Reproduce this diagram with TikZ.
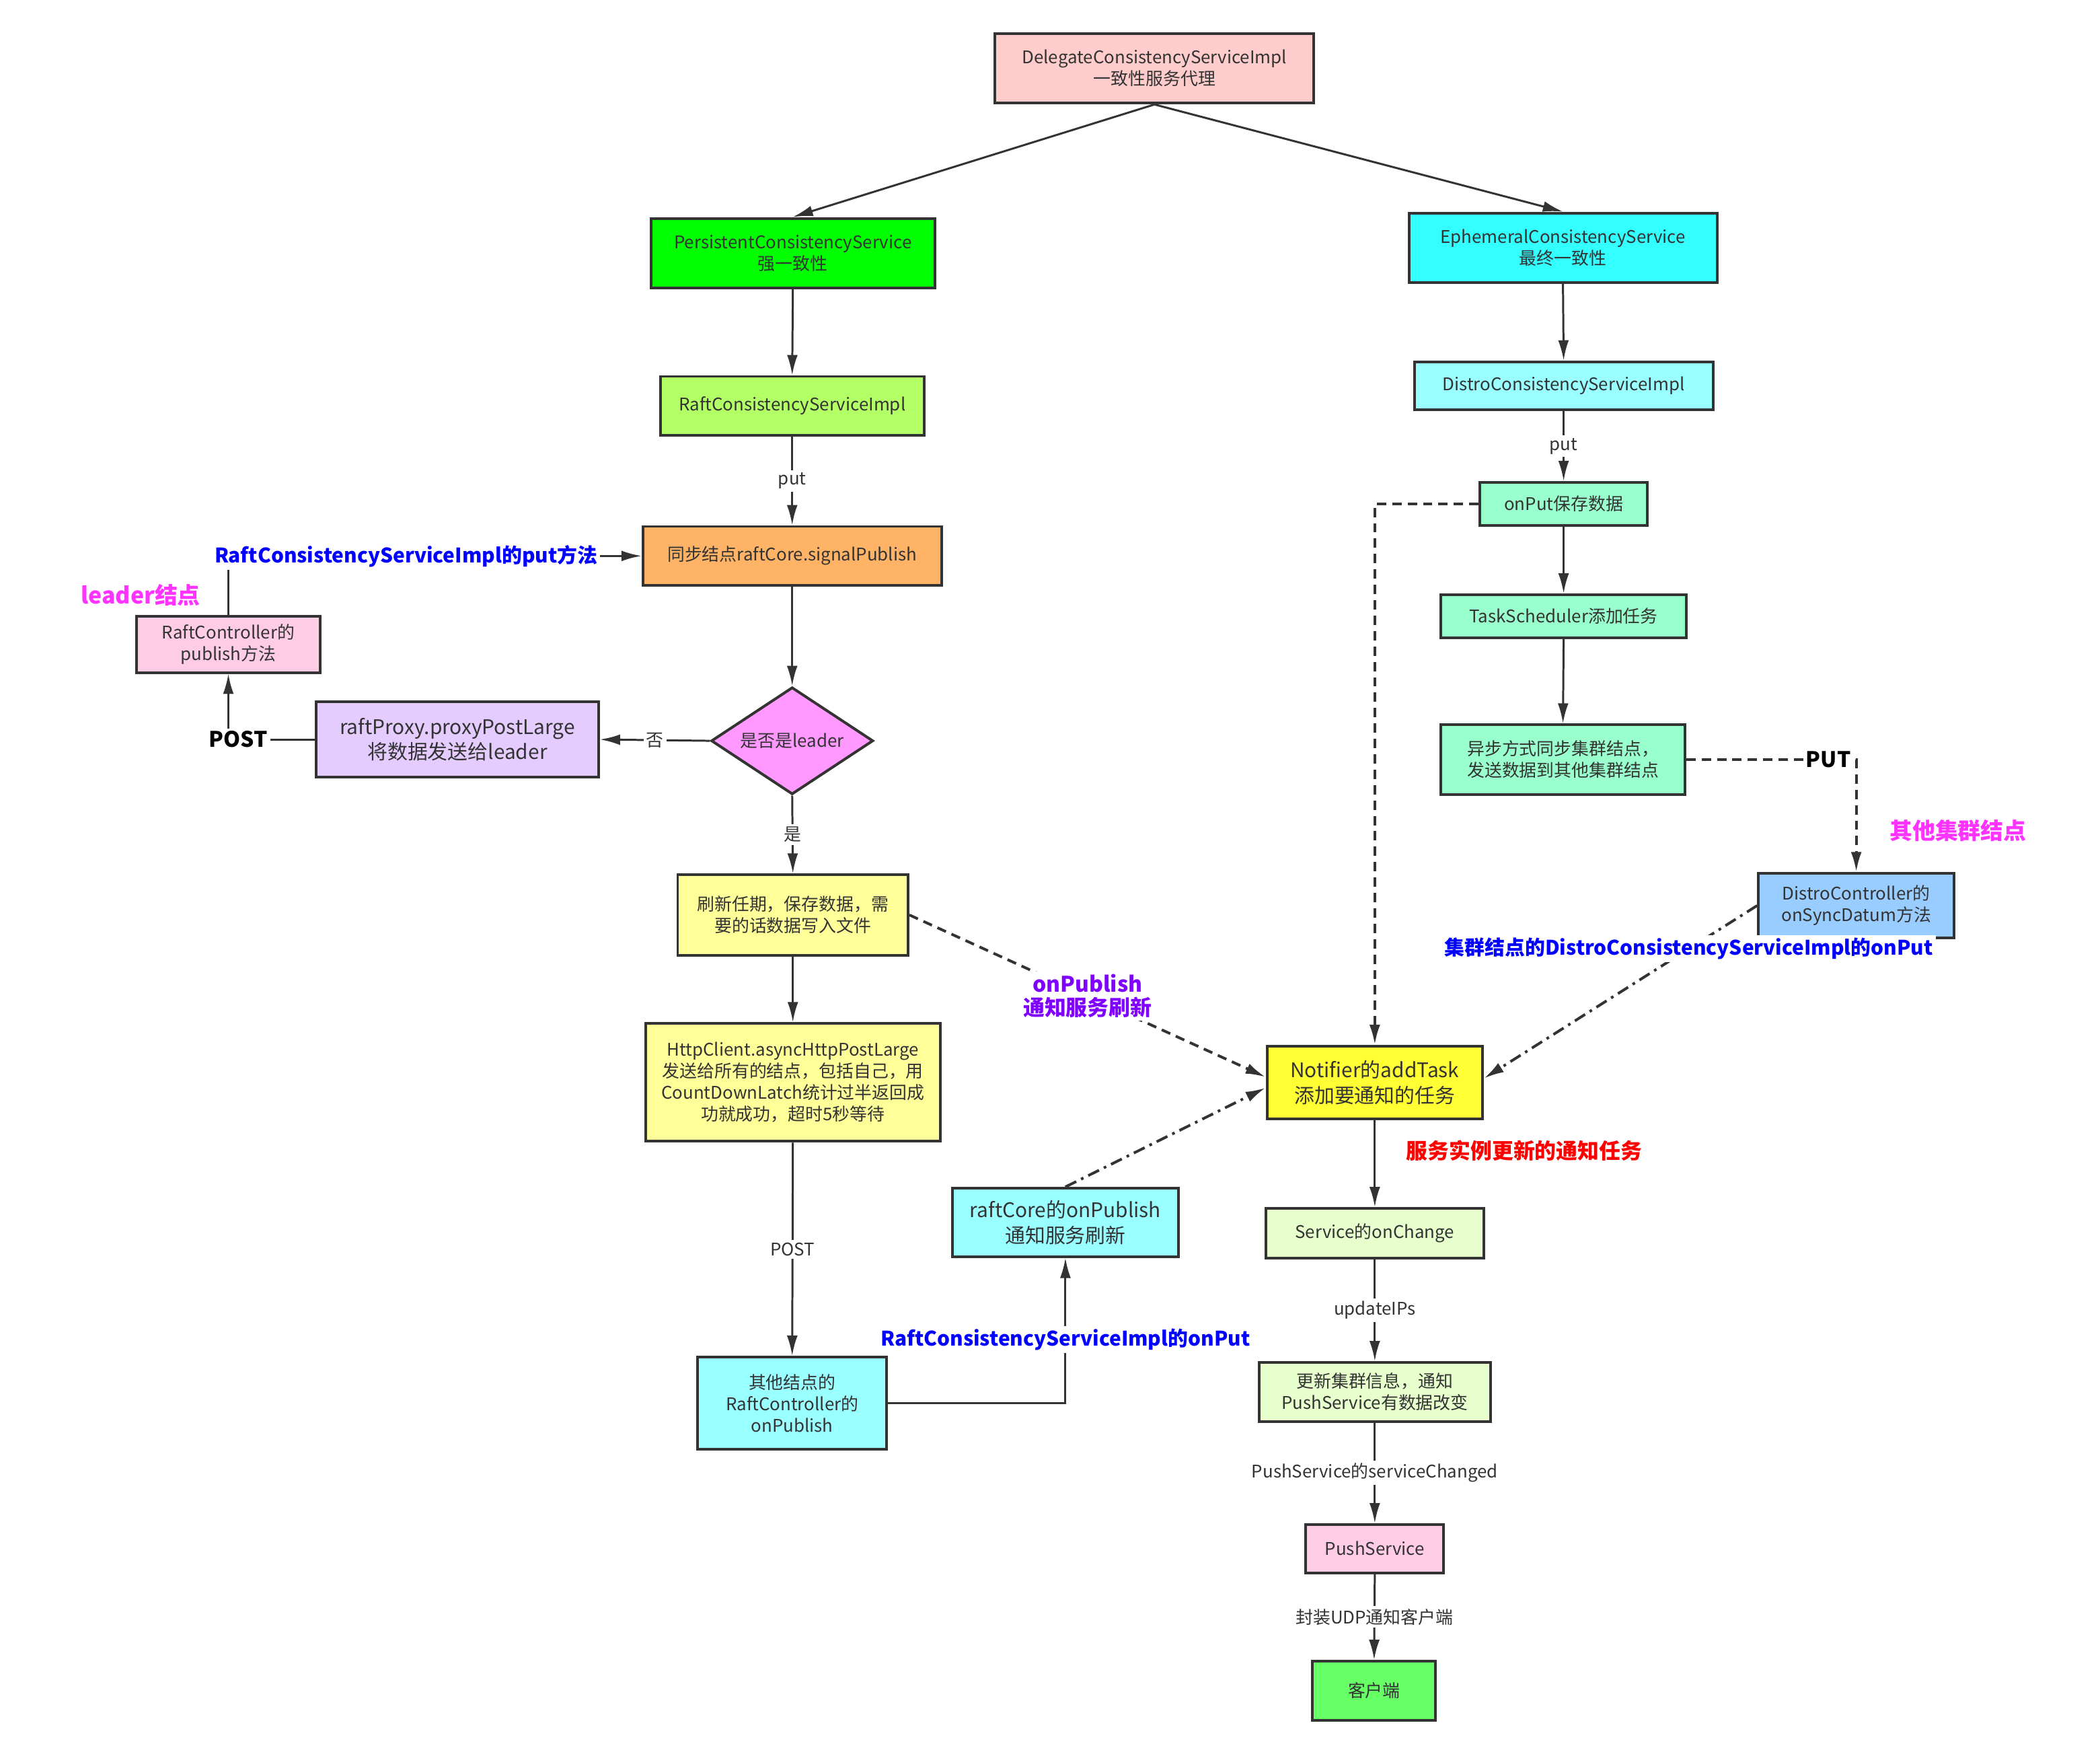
\documentclass[tikz,border=0pt]{standalone}
\usepackage{fontspec}
\newfontfamily\cjk{Noto Sans CJK SC}
\usetikzlibrary{arrows.meta,shapes.geometric}
\definecolor{ln}{HTML}{333333}
\definecolor{cDel}{HTML}{FFCCCC}
\definecolor{cPer}{HTML}{00FF00}
\definecolor{cEph}{HTML}{33FFFF}
\definecolor{cRcs}{HTML}{B3FF66}
\definecolor{cCyan}{HTML}{99FFFF}
\definecolor{cMint}{HTML}{99FFCC}
\definecolor{cOrange}{HTML}{FFB366}
\definecolor{cPink}{HTML}{FFCCE6}
\definecolor{cLav}{HTML}{E5CCFF}
\definecolor{cDia}{HTML}{FF99FF}
\definecolor{cSky}{HTML}{99CCFF}
\definecolor{cLY}{HTML}{FFFF99}
\definecolor{cY}{HTML}{FFFF33}
\definecolor{cLG}{HTML}{E6FFCC}
\definecolor{cG}{HTML}{66FF66}
\definecolor{cBlue}{HTML}{0000FF}
\definecolor{cMag}{HTML}{FF33FF}
\definecolor{cPur}{HTML}{7F00FF}
\definecolor{cRed}{HTML}{FF0000}
\newcommand\myfn{\cjk\fontsize{13}{16}\selectfont}
\newcommand\myfl{\cjk\fontsize{15}{19}\selectfont}
\newcommand\myfb{\cjk\bfseries\fontsize{15}{18}\selectfont}
\newcommand\myfr{\cjk\bfseries\fontsize{16}{18}\selectfont}
\newcommand\myfbb{\cjk\bfseries\fontsize{17}{19}\selectfont}
\begin{document}
\begin{tikzpicture}[x=1pt,y=-1pt,
  box/.style={draw=ln, line width=2pt, inner sep=0pt, align=center, text=ln, font=\myfn},
  arr/.style={draw=ln, line width=1.5pt, -{Latex[length=15pt,width=8pt]}},
  dsh/.style={draw=ln, line width=2pt, dash pattern=on 7pt off 4.5pt, -{Latex[length=15pt,width=8pt]}},
  dshdot/.style={draw=ln, line width=2pt, dash pattern=on 9pt off 4pt on 2pt off 4pt, -{Latex[length=15pt,width=8pt]}},
  elab/.style={fill=white, inner sep=2pt, text=ln, font=\myfn},
  blab/.style={fill=white, inner sep=2pt, text=cBlue, font=\myfb},
  klab/.style={fill=white, inner sep=2pt, text=black, font=\myfr},
]
\useasboundingbox (0,0) rectangle (1568,1309);
\fill[white] (0,0) rectangle (1568,1309);

% nodes
\node[box, fill=cDel, minimum width=238pt, minimum height=52pt] (del) at (862,51) {DelegateConsistencyServiceImpl\\一致性服务代理};
\node[box, fill=cPer, minimum width=212pt, minimum height=52pt] (per) at (592,189) {PersistentConsistencyService\\强一致性};
\node[box, fill=cEph, minimum width=230pt, minimum height=52pt] (eph) at (1167,185) {EphemeralConsistencyService\\最终一致性};
\node[box, fill=cRcs, minimum width=197pt, minimum height=44pt] (rcs) at (591.5,303) {RaftConsistencyServiceImpl};
\node[box, fill=cCyan, minimum width=223pt, minimum height=36pt] (dcs) at (1167.5,288) {DistroConsistencyServiceImpl};
\node[box, fill=cMint, minimum width=125pt, minimum height=32pt] (onput) at (1167.5,376) {onPut保存数据};
\node[box, fill=cOrange, minimum width=223pt, minimum height=44pt] (sig) at (591.5,415) {同步结点raftCore.signalPublish};
\node[box, fill=cMint, minimum width=183pt, minimum height=32pt] (task) at (1167.5,460) {TaskScheduler添加任务};
\node[box, fill=cPink, minimum width=137pt, minimum height=42pt] (rcp) at (170.5,481) {RaftController的\\publish方法};
\node[box, fill=cLav, minimum width=211pt, minimum height=56pt, font=\myfl] (proxy) at (341.5,552) {raftProxy.proxyPostLarge\\将数据发送给leader};
\node[box, diamond, aspect=1.5, fill=cDia, minimum width=121pt, minimum height=80pt] (dia) at (591.5,553) {是否是leader};
\node[box, fill=cMint, minimum width=182pt, minimum height=52pt] (async) at (1167,567) {异步方式同步集群结点，\\发送数据到其他集群结点};
\node[box, fill=cSky, minimum width=146pt, minimum height=48pt] (dc) at (1386,676) {DistroController的\\onSyncDatum方法};
\node[box, fill=cLY, minimum width=172pt, minimum height=60pt] (refresh) at (592,683) {刷新任期，保存数据，需\\要的话数据写入文件};
\node[box, fill=cLY, minimum width=220pt, minimum height=88pt] (http) at (592,808) {HttpClient.asyncHttpPostLarge\\发送给所有的结点，包括自己，用\\CountDownLatch统计过半返回成\\功就成功，超时5秒等待};
\node[box, fill=cY, minimum width=161pt, minimum height=54pt, font=\myfl] (notif) at (1026.5,808) {Notifier的addTask\\添加要通知的任务};
\node[box, fill=cCyan, minimum width=169pt, minimum height=51pt, font=\myfl] (rcore) at (795.5,912.5) {raftCore的onPublish\\通知服务刷新};
\node[box, fill=cLG, minimum width=163pt, minimum height=37pt] (svc) at (1026.5,920.5) {Service的onChange};
\node[box, fill=cCyan, minimum width=141pt, minimum height=69pt] (other) at (591.5,1047.5) {其他结点的\\RaftController的\\onPublish};
\node[box, fill=cLG, minimum width=173pt, minimum height=44pt] (upd) at (1026.5,1039) {更新集群信息，通知\\PushService有数据改变};
\node[box, fill=cPink, minimum width=103pt, minimum height=36pt] (push) at (1026.5,1156) {PushService};
\node[box, fill=cG, minimum width=92pt, minimum height=44pt] (client) at (1026,1262) {客户端};

% free labels
\node[text=cMag, font=\myfbb] (leaderlab) at (105,444) {leader结点};
\node[text=cMag, font=\myfbb] (otherlab) at (1462,620) {其他集群结点};

% solid edges
\draw[arr] (del.south) -- (per.north);
\draw[arr] (del.south) -- (eph.north);
\draw[arr] (per.south) -- (rcs.north);
\draw[arr] (eph.south) -- (dcs.north);
\draw[arr] (rcs.south) -- node[elab]{put} (sig.north);
\draw[arr] (dcs.south) -- node[elab]{put} (onput.north);
\draw[arr] (onput.south) -- (task.north);
\draw[arr] (task.south) -- (async.north);
\draw[arr] (sig.south) -- (dia.north);
\draw[arr] (dia.west) -- node[elab]{否} (proxy.east);
\draw[arr] (proxy.west) -- node[pos=0.885, klab]{POST} (rcp.south |- proxy.west) -- (rcp.south);
\draw[arr] (rcp.north) -- (rcp.north |- sig.west) -- node[pos=0.43, blab]{RaftConsistencyServiceImpl的put方法} (sig.west);
\draw[arr] (dia.south) -- node[elab]{是} (refresh.north);
\draw[arr] (refresh.south) -- (http.north);
\draw[arr] (http.south) -- node[elab]{POST} (other.north);
\draw[arr] (other.east) -- (rcore.south |- other.east) -- node[pos=0.44, blab]{RaftConsistencyServiceImpl的onPut} (rcore.south);
\draw[arr] (notif.south) -- node[anchor=west, xshift=19.5pt, yshift=9.5pt, text=cRed, font=\myfr]{服务实例更新的通知任务} (svc.north);
\draw[arr] (svc.south) -- node[elab]{updateIPs} (upd.north);
\draw[arr] (upd.south) -- node[elab]{PushService的serviceChanged} (push.north);
\draw[arr] (push.south) -- node[elab]{封装UDP通知客户端} (client.north);

% dashed edges
\draw[dsh] (onput.west) -- (notif.north |- onput.west) -- (notif.north);
\draw[dsh] (async.east) -- node[pos=0.836, klab]{PUT} (dc.north |- async.east) -- (dc.north);
\draw[dsh] (refresh.east) -- node[fill=white, inner sep=2pt, align=center, text=cPur, font=\myfr]{onPublish\\通知服务刷新} ([yshift=4pt]notif.west);
\draw[dshdot] (rcore.north) -- ([yshift=-4pt]notif.west);
\draw[dshdot] (dc.west) -- node[pos=0.25, blab]{集群结点的DistroConsistencyServiceImpl的onPut} ([yshift=3pt]notif.east);
\end{tikzpicture}
\end{document}
